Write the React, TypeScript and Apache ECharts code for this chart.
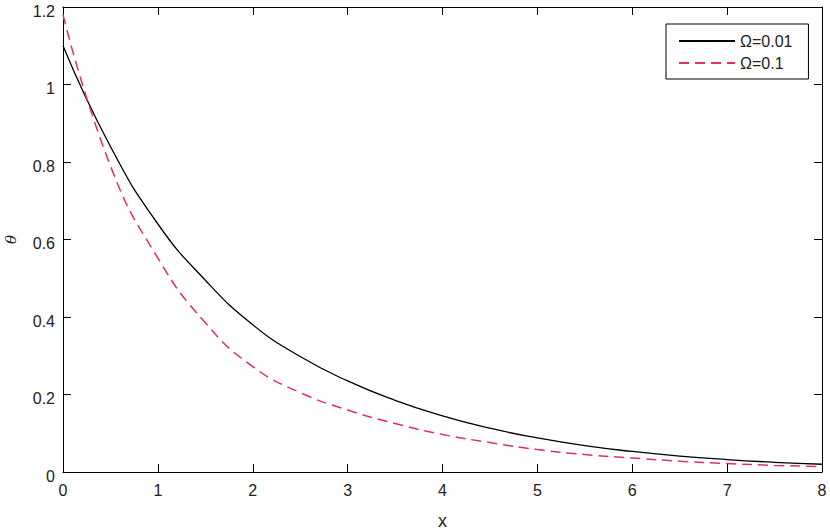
import React, { useEffect, useRef } from "react";
import * as echarts from "echarts";

const xValues = [0, 0.5, 1, 1.5, 2, 2.5, 3, 3.5, 4, 4.5, 5, 5.5, 6, 6.5, 7, 7.5, 8];
const omega001 = [1.1, 0.84, 0.64, 0.495, 0.38, 0.298, 0.235, 0.185, 0.145, 0.113, 0.088, 0.068, 0.053, 0.041, 0.032, 0.025, 0.02];
const omega01 = [1.18, 0.79, 0.552, 0.385, 0.272, 0.205, 0.16, 0.125, 0.097, 0.076, 0.058, 0.045, 0.036, 0.028, 0.022, 0.017, 0.014];
const seriesNames = ["Ω=0.01", "Ω=0.1"];

const FONT = "Liberation Sans, Arial, sans-serif";

export default function App() {
  const ref = useRef<HTMLDivElement>(null);
  useEffect(() => {
    if (!ref.current) return;
    const chart = echarts.init(ref.current, null, { renderer: "svg" });
    const axisCommon = {
      type: "value" as const,
      axisLine: { show: true, onZero: false, lineStyle: { color: "#000", width: 1 } },
      axisTick: { show: true, inside: true, length: 8, lineStyle: { color: "#000" } },
      splitLine: { show: false },
    };
    chart.setOption({
      animation: false,
      backgroundColor: "#fff",
      grid: { left: 63, right: 8, top: 7, bottom: 59, containLabel: false, outerBoundsMode: "none" },
      legend: {
        orient: "vertical",
        left: 666,
        top: 24,
        padding: [9, 16, 8, 12],
        itemGap: 6,
        itemWidth: 56,
        itemHeight: 10,
        borderColor: "#000",
        borderWidth: 1,
        backgroundColor: "#fff",
        itemStyle: { opacity: 0 },
        textStyle: { fontFamily: FONT, fontSize: 16, color: "#222" },
        data: seriesNames,
      },
      xAxis: [
        {
          ...axisCommon,
          min: 0,
          max: 8,
          interval: 1,
          position: "bottom",
          name: "x",
          nameLocation: "middle",
          nameGap: 40,
          nameTextStyle: { fontFamily: FONT, fontSize: 18, color: "#222" },
          axisLabel: { fontFamily: FONT, fontSize: 16, color: "#222", margin: 10 },
        },
        {
          ...axisCommon,
          min: 0,
          max: 8,
          interval: 1,
          position: "top",
          axisLabel: { show: false },
        },
      ],
      yAxis: [
        {
          ...axisCommon,
          min: 0,
          max: 1.2,
          interval: 0.2,
          position: "left",
          name: "θ",
          nameLocation: "middle",
          nameGap: 45,
          nameRotate: 90,
          nameTextStyle: { fontFamily: "DejaVu Serif, serif", fontStyle: "italic", fontSize: 15, color: "#222" },
          axisLabel: {
            fontFamily: FONT,
            fontSize: 16,
            color: "#222",
            margin: 8,
            verticalAlign: "top",
            lineHeight: 8,
            formatter: (v: number) => String(Math.round(v * 10) / 10),
          },
        },
        {
          ...axisCommon,
          min: 0,
          max: 1.2,
          interval: 0.2,
          position: "right",
          axisLabel: { show: false },
        },
      ],
      series: [
        {
          name: seriesNames[0],
          type: "line",
          smooth: true,
          symbol: "none",
          data: xValues.map((x, i) => [x, omega001[i]]),
          lineStyle: { color: "#000", width: 1.3, type: "solid" },
          itemStyle: { color: "#000" },
        },
        {
          name: seriesNames[1],
          type: "line",
          smooth: true,
          symbol: "none",
          data: xValues.map((x, i) => [x, omega01[i]]),
          lineStyle: { color: "#E8304F", width: 1.5, type: [10, 6] },
          itemStyle: { color: "#E8304F" },
        },
      ],
    });
    return () => chart.dispose();
  }, []);
  return <div ref={ref} style={{ width: 830, height: 531, position: "absolute", left: 0, top: 0 }} />;
}
